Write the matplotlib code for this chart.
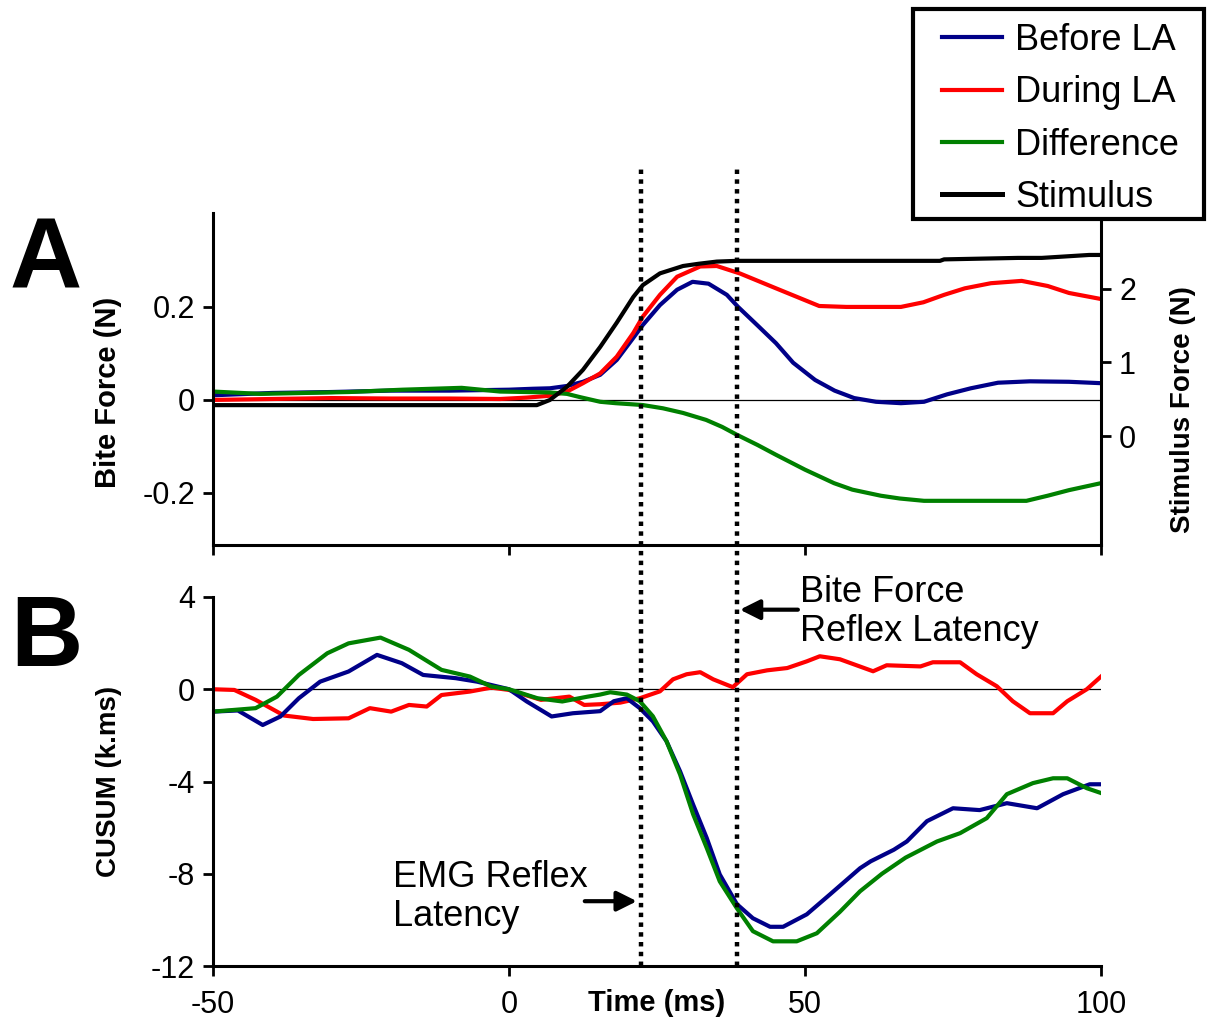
import numpy as np
import matplotlib
matplotlib.use("Agg")
import matplotlib.pyplot as plt
import matplotlib.transforms as mtransforms
from matplotlib.lines import Line2D
from matplotlib.patches import Rectangle

plt.rcParams['font.family'] = ['Liberation Sans', 'DejaVu Sans']
plt.rcParams['axes.unicode_minus'] = False

# ---- panel A: bite force (N) ----
t_before_a = [-50, -40, -30, -20, -10, 0, 4, 6.9, 9.8, 12.5, 15.4, 18.2, 20.5, 22.6, 25.5, 28.4, 31, 33.7, 36.8,
              38.7, 42, 45.1, 48, 51.7, 55, 58.3, 62, 66.2, 70.1, 74, 78, 82.6, 88, 94.6, 100]
before_a = [0.01, 0.015, 0.017, 0.02, 0.02, 0.022, 0.024, 0.025, 0.03, 0.039, 0.054, 0.086, 0.125, 0.161, 0.204,
            0.237, 0.254, 0.25, 0.226, 0.2, 0.16, 0.122, 0.08, 0.043, 0.02, 0.004, -0.004, -0.007, -0.004, 0.012,
            0.025, 0.037, 0.04, 0.039, 0.036]

t_during_a = [-50, -40, -30, -20, -10, -1.5, 3, 6.9, 9.8, 12.5, 15.4, 18.2, 21, 22.6, 25.5, 28.4, 32.3, 35.1,
              39, 45.1, 52.4, 57, 61.5, 66.2, 70, 73.5, 77, 81.4, 86.6, 91, 94.6, 100]
during_a = [0.0, 0.002, 0.004, 0.003, 0.003, 0.002, 0.005, 0.009, 0.018, 0.036, 0.057, 0.093, 0.144, 0.179,
            0.226, 0.265, 0.287, 0.288, 0.272, 0.24, 0.202, 0.2, 0.2, 0.2, 0.21, 0.226, 0.24, 0.251, 0.256, 0.245,
            0.23, 0.217]

t_diff_a = [-50, -42, -27, -18, -8, -1.5, 3, 6.9, 9.8, 12, 15.4, 18, 22.6, 26, 29.4, 33.3, 36, 38.5, 42, 45.1,
            50, 54.9, 58, 62.8, 66, 70.1, 80, 87.4, 91, 94.6, 100]
diff_a = [0.018, 0.013, 0.017, 0.022, 0.026, 0.018, 0.017, 0.016, 0.013, 0.006, -0.004, -0.007, -0.011, -0.018,
          -0.028, -0.043, -0.058, -0.075, -0.097, -0.118, -0.15, -0.179, -0.193, -0.206, -0.212, -0.217, -0.217,
          -0.217, -0.206, -0.194, -0.179]

# stimulus force (N), right axis
t_stim = [-50, -20, 0, 4.7, 6.9, 9.8, 12.5, 15.4, 18.2, 21, 22.6, 25.5, 29.4, 32, 35.1, 38.5, 50, 60, 72.8,
          73.5, 86, 90, 98, 100]
stim = [0.42, 0.42, 0.42, 0.42, 0.49, 0.67, 0.9, 1.21, 1.54, 1.89, 2.05, 2.21, 2.31, 2.34, 2.37, 2.38, 2.38,
        2.38, 2.38, 2.4, 2.42, 2.42, 2.46, 2.46]

# ---- panel B: CUSUM (k.ms) ----
t_before_b = [-50, -45.8, -41.6, -38.6, -35.5, -31.9, -27.1, -22.3, -18.1, -14.5, -9, -5.4, 0, 3, 7.2, 10.8,
              15.4, 17.7, 19.9, 22.1, 24.3, 26.6, 28.9, 31.1, 33.4, 35.6, 38.5, 41.2, 44.1, 46.3, 50.3, 54.2,
              59.3, 61.1, 65, 67.2, 70.6, 75, 79.5, 84.1, 89.2, 93.6, 98.1, 100]
before_b = [-0.97, -0.92, -1.55, -1.18, -0.39, 0.33, 0.77, 1.49, 1.13, 0.62, 0.48, 0.33, 0.0, -0.53, -1.18, -1.04,
            -0.95, -0.52, -0.39, -0.82, -1.39, -2.25, -3.56, -5.0, -6.45, -8.03, -9.32, -9.93, -10.3, -10.3,
            -9.76, -8.9, -7.76, -7.46, -6.96, -6.6, -5.72, -5.16, -5.24, -4.94, -5.16, -4.55, -4.12, -4.12]

t_during_b = [-50, -46.4, -42.8, -38, -33.1, -27.1, -23.5, -19.9, -16.9, -13.9, -11.4, -6.6, -3, 0, 5.4, 10.2,
              12.7, 15.4, 18.8, 22.1, 25.5, 27.7, 30, 32.3, 34.5, 37.8, 40.2, 43.6, 47, 50.3, 52.5, 55.9, 61.5,
              63.8, 69.5, 71.6, 76.2, 79, 82.4, 85.1, 88, 91.9, 94.3, 97.6, 100]
during_b = [0, -0.03, -0.46, -1.14, -1.29, -1.26, -0.82, -0.97, -0.68, -0.75, -0.25, -0.1, 0.07, -0.03, -0.46,
            -0.32, -0.68, -0.65, -0.58, -0.39, -0.09, 0.43, 0.65, 0.74, 0.43, 0.09, 0.65, 0.82, 0.92, 1.21, 1.43,
            1.3, 0.78, 1.04, 0.99, 1.17, 1.17, 0.65, 0.13, -0.52, -1.04, -1.04, -0.52, 0.0, 0.55]

t_diff_b = [-50, -42.8, -39.2, -35.5, -30.7, -27.1, -21.7, -16.9, -11.4, -6.6, -3, 0, 4.8, 9, 13.3, 15.4, 17.1,
            19.9, 22.1, 24.3, 26.6, 28.9, 31.1, 33.4, 35.6, 38.5, 41.2, 44.6, 48.6, 52, 55.9, 59.3, 63, 67,
            72.3, 76.2, 80.7, 84.1, 88.5, 91.9, 94.3, 97.6, 100]
diff_b = [-0.97, -0.82, -0.32, 0.62, 1.56, 1.99, 2.24, 1.71, 0.84, 0.55, 0.12, 0.0, -0.39, -0.53, -0.32, -0.23,
          -0.13, -0.23, -0.52, -1.17, -2.25, -3.7, -5.42, -6.88, -8.33, -9.5, -10.49, -10.93, -10.93, -10.58,
          -9.65, -8.76, -8.0, -7.3, -6.6, -6.24, -5.59, -4.55, -4.07, -3.86, -3.86, -4.29, -4.5]

latencies = [22.3, 38.5]   # EMG reflex, bite force reflex

c_before = '#000088'
c_during = '#ff0000'
c_diff = '#008000'

W, H = 1210, 1019
fig = plt.figure(figsize=(W / 100, H / 100), dpi=100)
axA = fig.add_axes([213 / W, 1 - 545 / H, 888 / W, 332 / H])
axB = fig.add_axes([213 / W, 1 - 966 / H, 888 / W, 369 / H])
axS = axA.twinx()

lw = 3
axA.axhline(0, color='black', lw=0.9, zorder=1)
hb, = axA.plot(t_before_a, before_a, color=c_before, lw=lw)
hd, = axA.plot(t_during_a, during_a, color=c_during, lw=lw)
hf, = axA.plot(t_diff_a, diff_a, color=c_diff, lw=lw)
hs, = axS.plot(t_stim, stim, color='black', lw=lw)

axB.axhline(0, color='black', lw=0.9, zorder=1)
axB.plot(t_during_b, during_b, color=c_during, lw=lw)
axB.plot(t_before_b, before_b, color=c_before, lw=lw)
axB.plot(t_diff_b, diff_b, color=c_diff, lw=lw)

for ax in (axA, axB, axS):
    ax.set_xlim(-50, 100)
    ax.set_xticks([-50, 0, 50, 100])
    ax.tick_params(direction='out', length=7, width=2, labelsize=22, pad=6)
    for s in ax.spines.values():
        s.set_linewidth(2.2)

axA.set_ylim(-0.312, 0.402)
axA.set_yticks([-0.2, 0, 0.2])
axA.set_yticklabels(['-0.2', '0', '0.2'])
axA.set_xticklabels([])
axA.spines['top'].set_visible(False)
axA.spines['right'].set_visible(False)
axA.set_ylabel('Bite Force (N)', fontsize=21, fontweight='bold')
axA.yaxis.set_label_coords(-0.102, 0.46)

axS.set_ylim(-1.48, 3.03)
axS.set_yticks([0, 1, 2])
axS.spines['top'].set_visible(False)
axS.spines['left'].set_visible(False)
axS.spines['bottom'].set_visible(False)
axS.set_ylabel('Stimulus Force (N)', fontsize=20, fontweight='bold')
axS.yaxis.set_label_coords(1.078, 0.407)

axB.set_ylim(-12, 4)
axB.set_yticks([-12, -8, -4, 0, 4])
axB.spines['top'].set_visible(False)
axB.spines['right'].set_visible(False)
axB.tick_params(axis='x', pad=10)
axB.set_ylabel('CUSUM (k.ms)', fontsize=20, fontweight='bold')
axB.yaxis.set_label_coords(-0.102, 0.5)
axB.set_xlabel('Time (ms)', fontsize=21, fontweight='bold', va='center')
axB.xaxis.set_label_coords(0.5, -0.1)

# dotted latency lines across both panels
trans = mtransforms.blended_transform_factory(axB.transData, fig.transFigure)
for t in latencies:
    fig.add_artist(Line2D([t, t], [1 - 966 / H, 1 - 168 / H], transform=trans, color='black',
                          lw=3.2, linestyle=(0, (1, 1.2))))

axB.text(49.2, 3.35, 'Bite Force\nReflex Latency', fontsize=26, va='center', ha='left', linespacing=1.15)
axB.annotate('', xy=(latencies[1] + 0.5, 3.45), xytext=(48.8, 3.45),
             arrowprops=dict(arrowstyle='-|>', lw=3, color='black', mutation_scale=30, shrinkA=0, shrinkB=0),
             annotation_clip=False)
axB.text(-19.6, -9.0, 'EMG Reflex\nLatency', fontsize=26, va='center', ha='left', linespacing=1.15)
axB.annotate('', xy=(latencies[0] - 0.7, -9.19), xytext=(12.8, -9.19),
             arrowprops=dict(arrowstyle='-|>', lw=3, color='black', mutation_scale=30, shrinkA=0, shrinkB=0))

fig.text(10 / W, 1 - 288 / H, 'A', fontsize=72, fontweight='bold', va='baseline')
fig.text(10 / W, 1 - 666 / H, 'B', fontsize=72, fontweight='bold', va='baseline')

# legend with a hand-placed square frame
fig.add_artist(Rectangle((913 / W, 1 - 219 / H), 291 / W, 210 / H, transform=fig.transFigure,
                         fill=True, facecolor='white', edgecolor='black', lw=3, zorder=5))
leg = fig.legend([hb, hd, hf, hs], ['Before LA', 'During LA', 'Difference', 'Stimulus'],
                 loc='upper left', bbox_to_anchor=(942 / W, 1 - 23 / H), fontsize=26, frameon=False,
                 borderaxespad=0, borderpad=0, handlelength=1.65, handletextpad=0.38, labelspacing=0.48)
leg.set_zorder(6)
for ln in leg.get_lines():
    ln.set_linewidth(3)
leg.get_lines()[3].set_linewidth(3.6)

fig.savefig('out.png', dpi=100)
